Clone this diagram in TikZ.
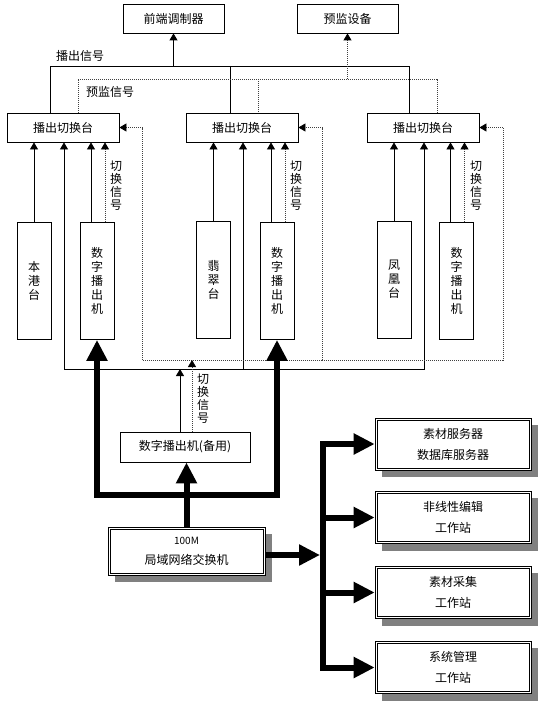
\documentclass[tikz,border=0pt]{standalone}
\usepackage{fontspec}
\setmainfont{Noto Sans CJK SC}
\usetikzlibrary{arrows.meta,backgrounds}
\begin{document}
\begin{tikzpicture}[x=1pt,y=-1pt,
 box/.style={draw, line width=0.8pt, fill=white, inner sep=0pt, align=center, font=\fontsize{12}{14}\selectfont},
 vbox/.style={box, minimum width=34pt, minimum height=117pt},
 hbox/.style={box, minimum width=112pt, minimum height=29pt},
 netbox/.style={box, line width=0.7pt, minimum width=156pt, minimum height=52pt, font=\fontsize{12}{21}\selectfont},
 inner/.style={line width=0.6pt},
 shade/.style={fill=black!50},
 ln/.style={line width=0.8pt},
 arr/.style={ln, -{Triangle[length=7pt,width=8pt]}},
 dot/.style={line width=0.8pt, dash pattern=on 1pt off 1pt, black!75},
 darr/.style={dot, -{Triangle[length=7pt,width=8pt,black]}},
 fat/.style={line width=6pt, line join=miter},
 fatarr/.style={fat, -{Triangle[length=21pt,width=20pt]}},
 lbl/.style={font=\fontsize{12}{13}\selectfont, align=center, inner sep=0pt}]
\useasboundingbox (0,0) rectangle (550,706);

% nodes
\node[box, minimum width=101pt, minimum height=29pt] (fe) at (173.5,18.5) {前端调制器};
\node[box, minimum width=101pt, minimum height=29pt] (pv) at (347.5,18.5) {预监设备};
\node[hbox] (s1) at (63,127.5) {播出切换台};
\node[hbox] (s2) at (242,127.5) {播出切换台};
\node[hbox] (s3) at (423,127.5) {播出切换台};
\node[vbox] (bg) at (34,280.5) {本\\港\\台};
\node[vbox] (d1) at (97,281) {数\\字\\播\\出\\机};
\node[vbox] (fc) at (213.5,280) {翡\\翠\\台};
\node[vbox] (d2) at (277,281) {数\\字\\播\\出\\机};
\node[vbox] (fh) at (394,279.5) {凤\\凰\\台};
\node[vbox] (d3) at (456.5,281) {数\\字\\播\\出\\机};
\node[box, minimum width=130pt, minimum height=30pt] (sp) at (185,447) {数字播出机(备用)};
\node[netbox, minimum width=157pt, minimum height=48pt, font=\fontsize{12}{20}\selectfont] (sw) at (186.5,551) {{\fontsize{10}{10}\selectfont 100M}\\局域网络交换机};
\node[netbox] (ra) at (453,444) {素材服务器\\数据库服务器};
\node[netbox] (rb) at (453,517.5) {非线性编辑\\工作站};
\node[netbox] (rc) at (453,592.5) {素材采集\\工作站};
\node[netbox] (rd) at (453,667.5) {系统管理\\工作站};

% shadows and inner frames of the network boxes
\begin{scope}[on background layer]
\foreach \n in {sw,ra,rb,rc,rd}
  \fill[shade] ([shift={(7pt,-7pt)}]\n.south west) rectangle ([shift={(7pt,-7pt)}]\n.north east);
\end{scope}
\foreach \n in {sw,ra,rb,rc,rd}
  \draw[inner] ([shift={(2.3pt,-2.3pt)}]\n.north west) rectangle ([shift={(-2.3pt,2.3pt)}]\n.south east);

% labels
\node[lbl] (l1) at (80,56) {播出信号};
\node[lbl] (l2) at (110,92) {预监信号};
\node[lbl] (k1) at (116,186) {切\\换\\信\\号};
\node[lbl] (k2) at (296,186) {切\\换\\信\\号};
\node[lbl] (k3) at (476,186) {切\\换\\信\\号};
\node[lbl] (k4) at (203,399) {切\\换\\信\\号};

% top distribution
\coordinate (tL) at (50,66); \coordinate (tM) at (230,66); \coordinate (tR) at (409,66);
\draw[ln] (tL |- s1.north) -- (tL) -- (tR) -- (tR |- s3.north);
\draw[ln] (tM) -- (tM |- s2.north);
\draw[arr] (fe.south |- tL) -- (fe.south);
\coordinate (pL) at (78,79); \coordinate (pM) at (258,79); \coordinate (pR) at (437,79);
\draw[dot] (pL |- s1.north) -- (pL) -- (pR) -- (pR |- s3.north);
\draw[dot] (pM) -- (pM |- s2.north);
\draw[darr] (pv.south |- pL) -- (pv.south);

% sources into switchers
\draw[arr] (bg.north) -- (bg.north |- s1.south);
\draw[arr] ([xshift=-6pt]d1.north) -- ([xshift=-6pt]d1.north |- s1.south);
\draw[darr] ([xshift=8pt]d1.north) -- ([xshift=8pt]d1.north |- s1.south);
\draw[arr] (fc.north) -- (fc.north |- s2.south);
\draw[arr] ([xshift=-6pt]d2.north) -- ([xshift=-6pt]d2.north |- s2.south);
\draw[darr] ([xshift=8pt]d2.north) -- ([xshift=8pt]d2.north |- s2.south);
\draw[arr] (fh.north) -- (fh.north |- s3.south);
\draw[arr] ([xshift=-6pt]d3.north) -- ([xshift=-6pt]d3.north |- s3.south);
\draw[darr] ([xshift=8pt]d3.north) -- ([xshift=8pt]d3.north |- s3.south);

% backup signal bus
\coordinate (bL) at (64,369); \coordinate (bM) at (243,369); \coordinate (bR) at (424,369);
\draw[arr] (bM) -- (bL) -- (bL |- s1.south);
\draw[arr] (bM) -- (bR) -- (bR |- s3.south);
\draw[arr] (bM) -- (bM |- s2.south);
\draw[arr] ([xshift=-5pt]sp.north) -- ([xshift=-5pt]sp.north |- bL);

% switching control (dotted)
\coordinate (cL) at (142,360); \coordinate (cM) at (322,360); \coordinate (cR) at (503,360);
\draw[darr] (cM) -- (cL) |- (s1.east);
\draw[darr] (cM) -- (cR) |- (s3.east);
\draw[darr] (cM) |- (s2.east);
\draw[darr] ([xshift=7pt]sp.north) -- ([xshift=7pt]sp.north |- cL);

% network (thick)
\coordinate (hub) at (187,495);
\draw[fatarr] (sw.north) -- (sw.north |- sp.south);
\draw[fat, {Triangle[length=21pt,width=20pt]}-{Triangle[length=21pt,width=20pt]}] (d1.south) |- (hub) -| (d2.south);
\coordinate (bx) at (323,0);
\draw[fatarr] (rd.west -| bx) |- (ra.west);
\draw[fatarr] (ra.west -| bx) |- (rd.west);
\draw[fatarr] (rb.west -| bx) -- (rb.west);
\draw[fatarr] (rc.west -| bx) -- (rc.west);
\draw[fatarr, shorten >=3pt] ([yshift=-4pt]sw.east) -- ([yshift=-4pt]sw.east -| bx);
\end{tikzpicture}
\end{document}
